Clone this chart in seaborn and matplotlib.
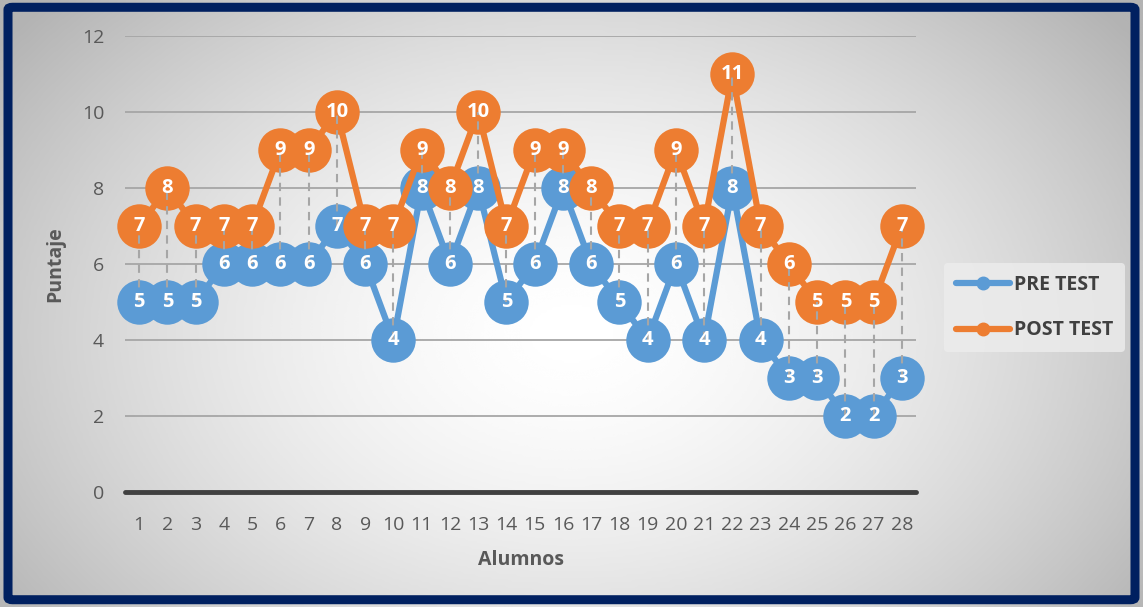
import numpy as np
import pandas as pd
import seaborn as sns
import matplotlib.pyplot as plt
from matplotlib.lines import Line2D
from matplotlib.patches import FancyBboxPatch

# Puntajes por alumno
alumnos = list(range(1, 29))
pre_test = [5, 5, 5, 6, 6, 6, 6, 7, 6, 4, 8, 6, 8, 5, 6, 8, 6, 5, 4, 6, 4, 8, 4, 3, 3, 2, 2, 3]
post_test = [7, 8, 7, 7, 7, 9, 9, 10, 7, 7, 9, 8, 10, 7, 9, 9, 8, 7, 7, 9, 7, 11, 7, 6, 5, 5, 5, 7]
series_names = ["PRE TEST", "POST TEST"]
y_ticks = [0, 2, 4, 6, 8, 10, 12]

BLUE = "#5B9BD5"
ORANGE = "#ED7D31"
TEXT = "#595959"

df = pd.DataFrame({
    "Alumno": alumnos * 2,
    "Puntaje": pre_test + post_test,
    "Prueba": [series_names[0]] * len(alumnos) + [series_names[1]] * len(alumnos),
})

sns.set_style("white")
plt.rcParams["font.family"] = ["Open Sans", "DejaVu Sans"]

fig = plt.figure(figsize=(11.43, 6.07), dpi=100)

# radial gradient background
bg = fig.add_axes([0, 0, 1, 1], zorder=-10)
gx, gy = np.meshgrid(np.linspace(0, 1, 400), np.linspace(0, 1, 220))
r = np.sqrt(((gx - 0.5) * 1.0) ** 2 + ((gy - 0.45) * 0.75) ** 2)
shade = 1 - 0.3 * np.clip(r / 0.62, 0, 1) ** 1.6
bg.imshow(shade, cmap="gray", vmin=0, vmax=1, extent=[0, 1, 0, 1],
          aspect="auto", origin="lower", interpolation="bicubic")
bg.set_xlim(0, 1)
bg.set_ylim(0, 1)
bg.axis("off")
fig.patches.append(FancyBboxPatch((0.007, 0.012), 0.986, 0.976,
                                  boxstyle="round,pad=0,rounding_size=0.004",
                                  transform=fig.transFigure, fill=False,
                                  edgecolor="#002060", linewidth=6.5))

ax = fig.add_axes([0.1094, 0.1895, 0.692, 0.751])
ax.patch.set_alpha(0)

sns.lineplot(data=df, x="Alumno", y="Puntaje", hue="Prueba",
             palette=[BLUE, ORANGE], marker="o", markersize=32,
             markeredgewidth=0, linewidth=4.5, ax=ax, legend=False,
             zorder=3)
for ln in ax.lines:
    ln.set_clip_on(False)

# high-low lines between both tests
lo = np.minimum(pre_test, post_test)
hi = np.maximum(pre_test, post_test)
ax.vlines(alumnos, lo, hi, colors="#A6A6A6", linestyles=(0, (4, 3)),
          linewidth=1.5, zorder=5)

# data labels
for x, v in zip(alumnos, pre_test):
    ax.text(x, v, str(v), ha="center", va="center", color="white",
            fontsize=14.5, fontweight="bold", zorder=6)
for x, v in zip(alumnos, post_test):
    ax.text(x, v, str(v), ha="center", va="center", color="white",
            fontsize=14.5, fontweight="bold", zorder=6)

ax.set_xlim(0.5, 28.5)
ax.set_ylim(0, 12)
ax.set_xticks(alumnos)
ax.set_yticks(y_ticks)
ax.tick_params(axis="both", length=0, labelsize=14, colors=TEXT)
ax.tick_params(axis="y", pad=15)
ax.tick_params(axis="x", pad=17)
for s in ax.spines.values():
    s.set_visible(False)
ax.grid(axis="y", color="#A6A6A6", linewidth=1.3, zorder=0)
ax.grid(axis="x", visible=False)
ax.axhline(0, color="#404040", linewidth=3.5, zorder=2, clip_on=False)

ax.set_xlabel("Alumnos", fontsize=14, fontweight="bold", color=TEXT, labelpad=12)
ax.set_ylabel("Puntaje", fontsize=14, fontweight="bold", color=TEXT, labelpad=12)

handles = [Line2D([], [], color=BLUE, linewidth=4.5, marker="o", markersize=9),
           Line2D([], [], color=ORANGE, linewidth=4.5, marker="o", markersize=9)]
leg = fig.legend(handles, series_names, loc="center left",
                 bbox_to_anchor=(0.826, 0.493), frameon=True,
                 handlelength=2.8, handletextpad=0.2, labelspacing=1.3,
                 borderpad=0.6, borderaxespad=0,
                 prop={"weight": "bold", "size": 14})
leg.get_frame().set_facecolor("#EDEDED")
leg.get_frame().set_edgecolor("none")
leg.get_frame().set_alpha(0.8)
for t in leg.get_texts():
    t.set_color("#404040")

fig.savefig("out.png", dpi=100)
